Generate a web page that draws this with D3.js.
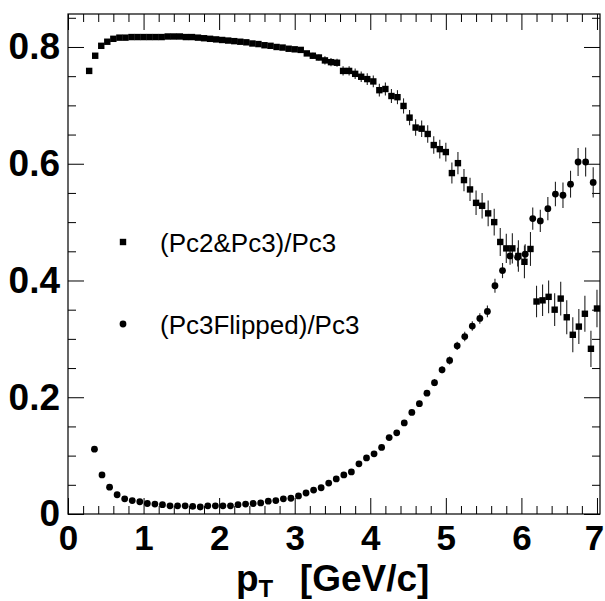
<!DOCTYPE html>
<html>
<head>
<meta charset="utf-8">
<script src="https://cdn.jsdelivr.net/npm/d3@7"></script>
<style>
html,body{margin:0;padding:0;background:#fff;}
svg{display:block;}
</style>
</head>
<body>
<svg id="chart" width="605" height="601"></svg>
<script>
// ---- data ----
const sqX = [0.28,0.36,0.44,0.52,0.60,0.68,0.76,0.84,0.92,1.00,1.08,1.16,1.24,1.32,1.40,1.48,1.56,1.64,1.72,1.80,1.88,1.96,2.04,2.12,2.20,2.28,2.36,2.44,2.52,2.60,2.68,2.76,2.84,2.92,3.00,3.08,3.16,3.24,3.32,3.40,3.48,3.56,3.64,3.72,3.80,3.88,3.96,4.04,4.12,4.20,4.28,4.36,4.44,4.52,4.60,4.68,4.76,4.84,4.92,5.00,5.08,5.16,5.24,5.32,5.40,5.48,5.56,5.64,5.72,5.80,5.88,5.96,6.04,6.12,6.20,6.28,6.36,6.44,6.52,6.60,6.68,6.76,6.84,6.92,7.00];
const sqY = [0.759,0.785,0.802,0.809,0.814,0.816,0.816,0.817,0.817,0.817,0.817,0.817,0.817,0.818,0.818,0.818,0.817,0.817,0.816,0.815,0.814,0.813,0.812,0.811,0.810,0.809,0.808,0.806,0.805,0.803,0.802,0.800,0.799,0.797,0.796,
  0.795,0.789,0.785,0.782,0.777,0.774,0.773,0.759,0.759,0.754,0.749,0.745,0.741,0.726,0.728,0.716,0.714,0.699,0.679,0.662,0.660,0.651,0.632,0.625,0.620,
  0.584,0.601,0.572,0.556,0.533,0.528,0.515,0.500,0.466,0.455,0.455,0.442,0.432,0.454,
  0.364,0.366,0.372,0.350,0.369,0.337,0.307,0.321,0.343,0.283,0.352];
const sqErr = [0.002,0.002,0.002,0.002,0.002,0.002,0.002,0.002,0.002,0.002,0.002,0.002,0.002,0.002,0.002,0.002,0.002,0.002,0.002,0.002,0.002,0.002,0.002,0.002,0.002,0.002,0.002,0.002,0.002,0.002,0.002,0.003,0.003,0.003,0.003,
  0.004,0.004,0.005,0.005,0.007,0.007,0.007,0.008,0.008,0.009,0.009,0.010,0.010,0.011,0.011,0.012,0.012,0.013,0.013,0.014,0.014,0.015,0.015,0.016,0.016,
  0.018,0.019,0.019,0.020,0.021,0.022,0.022,0.023,0.024,0.025,0.026,0.027,0.028,0.029,
  0.027,0.027,0.028,0.028,0.029,0.029,0.030,0.030,0.031,0.031,0.032];

const ciX = [0.35,0.45,0.55,0.65,0.75,0.85,0.95,1.05,1.15,1.25,1.35,1.45,1.55,1.65,1.75,1.85,1.95,2.05,2.15,2.25,2.35,2.45,2.55,2.65,2.75,2.85,2.95,3.05,3.15,3.25,3.35,3.45,3.55,3.65,3.75,3.85,3.95,4.05,4.15,4.25,4.35,4.45,4.55,4.65,4.75,4.85,4.95,5.05,5.15,5.25,5.35,5.45,5.55,5.65,5.75,5.85,5.95,6.05,6.15,6.25,6.35,6.45,6.55,6.65,6.75,6.85,6.95];
const ciY = [0.111,0.067,0.046,0.033,0.026,0.023,0.021,0.018,0.017,0.016,0.014,0.014,0.014,0.013,0.012,0.014,0.014,0.014,0.014,0.016,0.017,0.018,0.019,0.022,0.023,0.026,0.027,0.031,0.036,
  0.041,0.045,0.053,0.060,0.067,0.072,0.086,0.096,0.103,0.114,0.131,0.139,0.156,0.174,0.189,0.207,0.225,0.247,0.263,0.288,0.304,0.322,0.335,0.347,
  0.391,0.417,0.442,0.440,0.445,0.506,0.502,0.523,0.548,0.546,0.565,0.603,0.603,0.568];
const ciErr = [0.001,0.001,0.001,0.001,0.001,0.001,0.001,0.001,0.001,0.001,0.001,0.001,0.001,0.001,0.001,0.001,0.001,0.001,0.001,0.001,0.001,0.001,0.001,0.001,0.001,0.001,0.001,0.001,0.001,
  0.001,0.001,0.001,0.002,0.002,0.002,0.002,0.002,0.002,0.003,0.003,0.003,0.004,0.004,0.005,0.005,0.006,0.006,0.007,0.007,0.008,0.008,0.009,0.010,
  0.012,0.013,0.015,0.016,0.017,0.019,0.019,0.020,0.021,0.022,0.023,0.024,0.025,0.026];

const xMajor = [0,1,2,3,4,5,6,7];
const xLabels = ["0","1","2","3","4","5","6","7"];
const yMajor = [0,0.2,0.4,0.6,0.8];
const yLabels = ["0","0.2","0.4","0.6","0.8"];
const legendLabels = ["(Pc2&Pc3)/Pc3","(Pc3Flipped)/Pc3"];

// ---- layout ----
const L = 68, R = 600, T = 14, B = 514;
const svg = d3.select("#chart");
const x = d3.scaleLinear().domain([0, 7.04]).range([L, R]);
const y = d3.scaleLinear().domain([0, 0.8565]).range([B, T]);

const xMinor = d3.range(0, 36).map(i => +(i * 0.2).toFixed(2)).filter(v => xMajor.indexOf(v) < 0);
const yMinor = d3.range(0, 18).map(i => +(i * 0.05).toFixed(2)).filter(v => yMajor.indexOf(v) < 0);

const font = "'Liberation Sans', Arial, Helvetica, sans-serif";

function styleAxis(g){
  g.select(".domain").remove();
  g.selectAll("line").attr("stroke", "#000").attr("stroke-width", 1);
}

// bottom axis (labels)
const gB = svg.append("g").attr("transform", `translate(0,${B})`)
  .call(d3.axisBottom(x).tickValues(xMajor).tickSizeInner(-16).tickSizeOuter(0).tickPadding(11)
    .tickFormat((d,i) => xLabels[i]));
styleAxis(gB);
gB.selectAll("text").attr("font-family", font).attr("font-weight", "bold").attr("font-size", 35).attr("fill", "#000").attr("dy", "0.72em")
  .attr("dx", (d) => d === 7 ? -3 : 0);
svg.append("g").attr("transform", `translate(0,${B})`)
  .call(d3.axisBottom(x).tickValues(xMinor).tickSize(-8).tickFormat("")).call(styleAxis);
// top axis
svg.append("g").attr("transform", `translate(0,${T})`)
  .call(d3.axisTop(x).tickValues(xMajor).tickSize(-16).tickFormat("")).call(styleAxis);
svg.append("g").attr("transform", `translate(0,${T})`)
  .call(d3.axisTop(x).tickValues(xMinor).tickSize(-8).tickFormat("")).call(styleAxis);

// left axis (labels)
const gL = svg.append("g").attr("transform", `translate(${L},0)`)
  .call(d3.axisLeft(y).tickValues(yMajor).tickSizeInner(-16).tickSizeOuter(0).tickPadding(8)
    .tickFormat((d,i) => yLabels[i]));
styleAxis(gL);
gL.selectAll("text").attr("font-family", font).attr("font-weight", "bold").attr("font-size", 37).attr("fill", "#000");
svg.append("g").attr("transform", `translate(${L},0)`)
  .call(d3.axisLeft(y).tickValues(yMinor).tickSize(-8).tickFormat("")).call(styleAxis);
// right axis
svg.append("g").attr("transform", `translate(${R},0)`)
  .call(d3.axisRight(y).tickValues(yMajor).tickSize(-16).tickFormat("")).call(styleAxis);
svg.append("g").attr("transform", `translate(${R},0)`)
  .call(d3.axisRight(y).tickValues(yMinor).tickSize(-8).tickFormat("")).call(styleAxis);

// frame
svg.append("rect").attr("x", L).attr("y", T).attr("width", R - L).attr("height", B - T)
  .attr("fill", "none").attr("stroke", "#000").attr("stroke-width", 1.2);

// data
const sq = sqX.map((v,i) => ({x:v, y:sqY[i], e:sqErr[i]}));
const ci = ciX.map((v,i) => ({x:v, y:ciY[i], e:ciErr[i]}));

const gD = svg.append("g");
gD.selectAll("line.esq").data(sq).enter().append("line")
  .attr("x1", d => x(d.x)).attr("x2", d => x(d.x))
  .attr("y1", d => y(d.y - d.e)).attr("y2", d => y(d.y + d.e))
  .attr("stroke", "#222").attr("stroke-width", 1.1);
gD.selectAll("line.eci").data(ci).enter().append("line")
  .attr("x1", d => x(d.x)).attr("x2", d => x(d.x))
  .attr("y1", d => y(d.y - d.e)).attr("y2", d => y(d.y + d.e))
  .attr("stroke", "#222").attr("stroke-width", 1.1);

const S = 6.4;
gD.selectAll("rect.sq").data(sq).enter().append("rect")
  .attr("x", d => x(d.x) - S/2).attr("y", d => y(d.y) - S/2)
  .attr("width", S).attr("height", S).attr("fill", "#000");
gD.selectAll("circle.ci").data(ci).enter().append("circle")
  .attr("cx", d => x(d.x)).attr("cy", d => y(d.y)).attr("r", 3.4).attr("fill", "#000");

// legend
svg.append("rect").attr("x", 123 - S/2).attr("y", 242 - S/2).attr("width", S).attr("height", S).attr("fill", "#000");
svg.append("circle").attr("cx", 123).attr("cy", 324).attr("r", 3.4).attr("fill", "#000");
svg.append("text").attr("x", 160).attr("y", 252).text(legendLabels[0])
  .attr("font-family", font).attr("font-size", 26).attr("fill", "#000");
svg.append("text").attr("x", 160).attr("y", 334).text(legendLabels[1])
  .attr("font-family", font).attr("font-size", 26).attr("fill", "#000");

// x axis title
const t = svg.append("text").attr("x", 236).attr("y", 591)
  .attr("font-family", font).attr("font-weight", "bold").attr("font-size", 37).attr("fill", "#000");
t.append("tspan").text("p");
t.append("tspan").attr("font-size", 24).attr("dy", 6).text("T");
t.append("tspan").attr("dy", -6).attr("dx", 6).text("  [GeV/c]").attr("xml:space","preserve");
</script>
</body>
</html>
